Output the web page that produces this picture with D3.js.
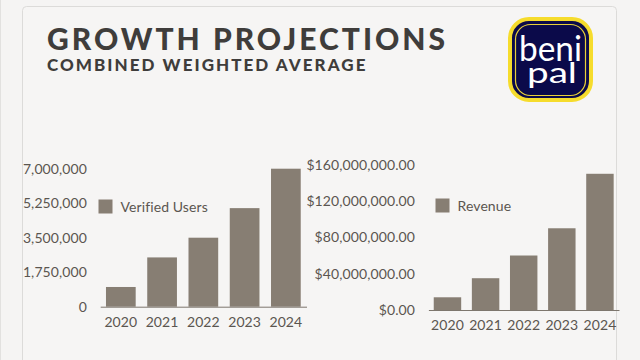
<!DOCTYPE html>
<html>
<head>
<meta charset="utf-8">
<script src="https://cdn.jsdelivr.net/npm/d3@7"></script>
<style>
  html, body { margin: 0; padding: 0; background: #f5f4f3; overflow: hidden; }
  svg { display: block; font-family: Lato, "Noto Sans", sans-serif; }
  .tick text { font-family: Lato, "Noto Sans", sans-serif; font-size: 14px; fill: #5b5650; letter-spacing: 0.1px; }
  .legend-label { font-size: 14px; fill: #5b5650; letter-spacing: 0.1px; }
</style>
</head>
<body>
<div id="chart"></div>
<script>
const years = ["2020", "2021", "2022", "2023", "2024"];
const verifiedUsers = [1000000, 2500000, 3500000, 5000000, 7000000];
const revenue = [14000000, 35000000, 60000000, 90000000, 150000000];
const userTicks = [0, 1750000, 3500000, 5250000, 7000000];
const revenueTicks = [0, 40000000, 80000000, 120000000, 160000000];

const barColor = "#877e73";
const axisColor = "#7d766d";

const svg = d3.select("#chart").append("svg")
  .attr("width", 640)
  .attr("height", 360);

// Page card
svg.append("rect")
  .attr("x", 22.5).attr("y", 6.5)
  .attr("width", 594).attr("height", 400)
  .attr("rx", 4)
  .attr("fill", "#f6f5f4")
  .attr("stroke", "#dcdbd9");

svg.append("line")
  .attr("x1", 0.5).attr("x2", 0.5)
  .attr("y1", 0).attr("y2", 360)
  .attr("stroke", "#e2e1df");

// Titles
svg.append("text")
  .attr("x", 47).attr("y", 50)
  .attr("font-size", 30).attr("font-weight", 900)
  .attr("letter-spacing", 3)
  .attr("fill", "#3f3d3b")
  .text("GROWTH PROJECTIONS");

svg.append("text")
  .attr("x", 47).attr("y", 70.5)
  .attr("font-size", 17).attr("font-weight", 900)
  .attr("letter-spacing", 2.05)
  .attr("fill", "#3f3d3b")
  .text("COMBINED WEIGHTED AVERAGE");

// Logo
const logo = svg.append("g");
logo.append("rect")
  .attr("x", 510).attr("y", 19)
  .attr("width", 81).attr("height", 81)
  .attr("rx", 19)
  .attr("fill", "#0b0a4a")
  .attr("stroke", "#f6dc2c").attr("stroke-width", 4);
logo.append("rect")
  .attr("x", 515.5).attr("y", 24.5)
  .attr("width", 70).attr("height", 71)
  .attr("rx", 15)
  .attr("fill", "none")
  .attr("stroke", "#e8cf3a").attr("stroke-width", 1.2);
logo.append("text")
  .attr("x", 519).attr("y", 61)
  .attr("font-size", 35)
  .attr("textLength", 63).attr("lengthAdjust", "spacingAndGlyphs")
  .attr("fill", "#ffffff")
  .text("beni");
logo.append("text")
  .attr("x", 527).attr("y", 83)
  .attr("font-size", 29)
  .attr("textLength", 50).attr("lengthAdjust", "spacingAndGlyphs")
  .attr("fill", "#ffffff")
  .text("pal");

function drawChart(cfg) {
  const x = d3.scaleBand()
    .domain(years)
    .range(cfg.xRange)
    .paddingInner(0.28)
    .paddingOuter(0.14);
  const y = d3.scaleLinear()
    .domain([0, cfg.max])
    .range(cfg.yRange);

  const yAxis = d3.axisLeft(y)
    .tickValues(cfg.ticks)
    .tickFormat(cfg.format)
    .tickSize(0)
    .tickPadding(0);
  svg.append("g")
    .attr("transform", `translate(${cfg.yAxisX},0)`)
    .call(yAxis)
    .call(g => g.select(".domain").remove());

  svg.append("g")
    .selectAll("rect")
    .data(cfg.values)
    .enter()
    .append("rect")
    .attr("x", (d, i) => x(years[i]))
    .attr("y", d => y(d))
    .attr("width", x.bandwidth())
    .attr("height", d => y(0) - y(d))
    .attr("fill", barColor);

  const xAxis = d3.axisBottom(x).tickSize(0).tickPadding(10);
  svg.append("g")
    .attr("transform", `translate(0,${cfg.yRange[0]})`)
    .call(xAxis)
    .call(g => g.select(".domain").attr("stroke", axisColor).attr("stroke-width", 1));

  // Legend
  svg.append("rect")
    .attr("x", cfg.legendX).attr("y", cfg.legendY)
    .attr("width", 14).attr("height", 14)
    .attr("fill", barColor);
  svg.append("text")
    .attr("class", "legend-label")
    .attr("x", cfg.legendX + 22).attr("y", cfg.legendY + 12)
    .text(cfg.label);
}

drawChart({
  values: verifiedUsers,
  label: "Verified Users",
  ticks: userTicks,
  max: 7000000,
  format: d3.format(","),
  xRange: [100.2, 306.5],
  yRange: [306.7, 168.7],
  yAxisX: 87,
  legendX: 98.5,
  legendY: 199.5
});

drawChart({
  values: revenue,
  label: "Revenue",
  ticks: revenueTicks,
  max: 160000000,
  format: d3.format("$,.2f"),
  xRange: [428.4, 619],
  yRange: [310, 164.7],
  yAxisX: 415,
  legendX: 435.5,
  legendY: 198.5
});
</script>
</body>
</html>
